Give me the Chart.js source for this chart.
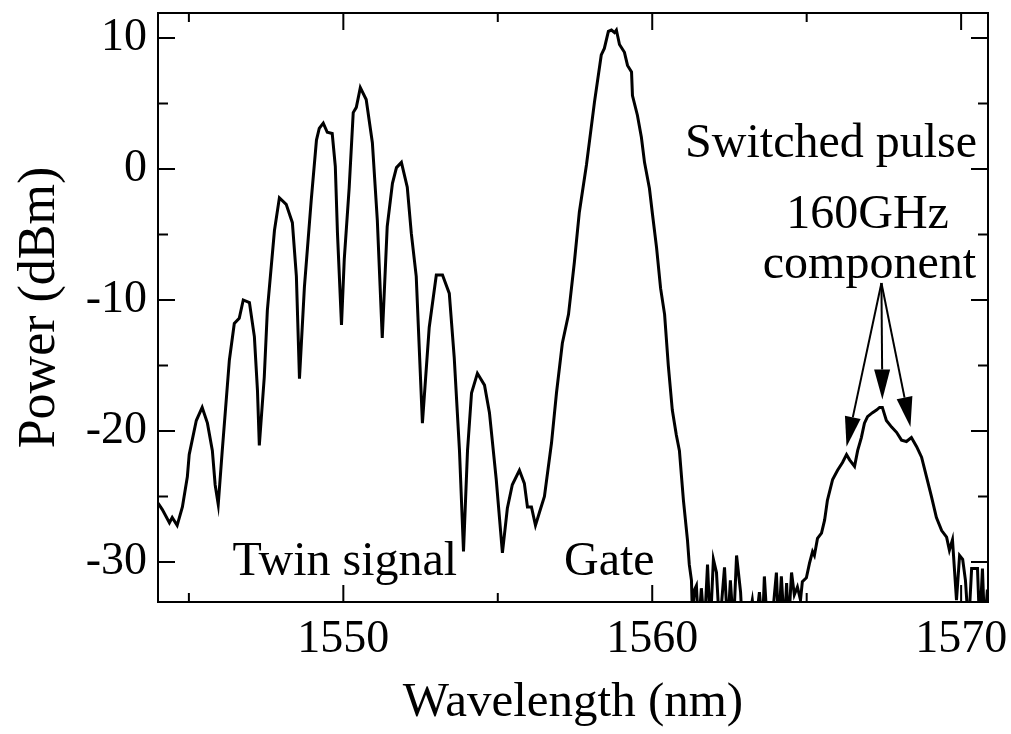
<!DOCTYPE html>
<html>
<head>
<meta charset="utf-8">
<script src="https://cdn.jsdelivr.net/npm/chart.js@4/dist/chart.umd.min.js"></script>
<style>
  html, body { margin: 0; padding: 0; background: #fff; }
  #wrap { width: 1011px; height: 734px; }
</style>
</head>
<body>
<div id="wrap"><canvas id="spectrum" width="1011" height="734"></canvas></div>
<script>
// spectrum: wavelength (nm) / power (dBm)
const wavelength = [
  1544.00, 1544.14, 1544.37, 1544.46, 1544.62, 1544.79, 1544.95, 1545.01, 1545.24, 1545.43,
  1545.60, 1545.76, 1545.85, 1545.95, 1546.08, 1546.21, 1546.31, 1546.47, 1546.63, 1546.76,
  1546.96, 1547.12, 1547.22, 1547.28, 1547.44, 1547.54, 1547.77, 1547.93, 1548.15, 1548.35,
  1548.48, 1548.58, 1548.74, 1548.96, 1549.13, 1549.22, 1549.35, 1549.48, 1549.64, 1549.74,
  1549.81, 1549.94, 1550.03, 1550.19, 1550.32, 1550.42, 1550.55, 1550.74, 1550.94, 1551.10,
  1551.26, 1551.42, 1551.59, 1551.72, 1551.88, 1552.07, 1552.20, 1552.36, 1552.56, 1552.78,
  1553.01, 1553.21, 1553.43, 1553.59, 1553.76, 1553.89, 1554.02, 1554.15, 1554.34, 1554.57,
  1554.73, 1554.95, 1555.15, 1555.31, 1555.47, 1555.70, 1555.86, 1555.96, 1556.09, 1556.22,
  1556.35, 1556.51, 1556.74, 1556.90, 1557.09, 1557.29, 1557.48, 1557.64, 1557.87, 1558.13,
  1558.35, 1558.45, 1558.58, 1558.68, 1558.78, 1558.84, 1558.94, 1559.10, 1559.20, 1559.33,
  1559.36, 1559.52, 1559.65, 1559.75, 1559.91, 1560.01, 1560.14, 1560.27, 1560.40, 1560.52,
  1560.65, 1560.78, 1560.88, 1561.01, 1561.14, 1561.20, 1561.27, 1561.30,
  1561.37, 1561.43, 1561.50, 1561.59, 1561.69, 1561.79, 1561.88, 1561.98, 1562.08, 1562.18,
  1562.34, 1562.44, 1562.53, 1562.63, 1562.73, 1562.86, 1562.92, 1563.08, 1563.24, 1563.34,
  1563.47, 1563.57, 1563.63, 1563.73, 1563.86, 1564.02, 1564.09, 1564.18, 1564.28, 1564.35,
  1564.41, 1564.51, 1564.60, 1564.70, 1564.80, 1564.86, 1564.99, 1565.09, 1565.19, 1565.25,
  1565.35, 1565.48, 1565.58, 1565.67, 1565.84, 1566.00, 1566.16, 1566.29, 1566.39, 1566.55,
  1566.65, 1566.77, 1566.87, 1566.97, 1567.13, 1567.26, 1567.36, 1567.45, 1567.58, 1567.75,
  1567.91, 1568.07, 1568.23, 1568.39, 1568.56, 1568.72, 1568.88, 1569.04, 1569.20, 1569.37,
  1569.53, 1569.62, 1569.72, 1569.85, 1569.95, 1570.05, 1570.14, 1570.24, 1570.34, 1570.53,
  1570.60, 1570.69, 1570.76, 1570.85
];
const power = [
  -25.5, -26.0, -27.0, -26.6, -27.2, -25.8, -23.5, -21.8, -19.2, -18.2,
  -19.4, -21.5, -24.1, -25.6, -21.5, -17.6, -14.6, -11.8, -11.4, -10.0,
  -10.2, -12.8, -16.9, -21.1, -15.9, -10.8, -4.7, -2.2, -2.7, -4.1,
  -8.2, -16.0, -9.0, -2.4, 2.2, 3.1, 3.5, 2.8, 2.7, 0.2,
  -4.9, -11.9, -6.9, -1.4, 4.3, 4.7, 6.2, 5.3, 2.0, -3.9,
  -12.9, -4.4, -1.1, 0.1, 0.5, -1.4, -4.9, -8.2, -19.4, -12.1,
  -8.1, -8.1, -9.5, -14.4, -21.5, -29.2, -21.5, -17.1, -15.6, -16.5,
  -18.6, -23.7, -29.3, -25.9, -24.1, -23.0, -24.0, -25.8, -25.8, -27.2,
  -26.2, -25.0, -20.9, -17.1, -13.3, -11.1, -7.1, -3.3, 0.3, 5.1,
  8.7, 9.2, 10.5, 10.6, 10.4, 10.6, 9.5, 8.9, 7.9, 7.4,
  5.6, 4.1, 2.4, 0.5, -1.5, -3.5, -6.0, -9.1, -11.1, -15.0,
  -18.4, -20.3, -21.5, -25.3, -28.3, -30.2, -31.4, -34,
  -32.1, -31.8, -35, -32.0, -35, -30.2, -35, -29.8, -30.8, -35,
  -30.4, -35, -31.4, -35, -29.5, -32.3, -35, -35, -32.9, -35,
  -32.3, -35, -31.1, -35, -35, -30.8, -35, -31.1, -35, -31.6,
  -35, -30.8, -32.5, -31.9, -32.9, -31.5, -31.2, -30.1, -29.2, -29.5,
  -28.2, -27.8, -26.8, -25.3, -23.7, -23.0, -22.4, -21.8, -22.2, -22.7,
  -21.5, -20.5, -19.4, -18.9, -18.6, -18.4, -18.2, -18.2, -19.2, -19.7,
  -20.1, -20.7, -20.8, -20.5, -21.2, -22.0, -23.5, -25.0, -26.6, -27.6,
  -28.1, -29.1, -28.3, -32.9, -29.5, -29.8, -31.4, -35, -30.5, -30.5,
  -35, -30.5, -35, -32.1
];

const xTickLabels = [1550, 1560, 1570];
const yTickLabels = [-30, -20, -10, 0, 10];

// arrows from "component" to the three 160 GHz lines
const arrowFrom = { x: 1567.42, y: -8.7 };
const arrowTips = [
  { x: 1566.29, y: -21.2 },
  { x: 1567.45, y: -17.6 },
  { x: 1568.36, y: -19.7 }
];

const serif = '"Liberation Serif", "Times New Roman", serif';

const frameAndTicks = {
  id: 'frameAndTicks',
  afterDatasetsDraw(chart) {
    const { ctx, chartArea: a, scales: { x, y } } = chart;
    ctx.save();
    ctx.strokeStyle = '#000';
    ctx.lineWidth = 2;
    ctx.strokeRect(a.left, a.top, a.right - a.left, a.bottom - a.top);
    ctx.beginPath();
    x.ticks.forEach(t => {
      const px = x.getPixelForValue(t.value);
      const len = t.value % 10 === 0 ? 17 : 9;
      ctx.moveTo(px, a.bottom); ctx.lineTo(px, a.bottom - len);
      ctx.moveTo(px, a.top); ctx.lineTo(px, a.top + len);
    });
    y.ticks.forEach(t => {
      const py = y.getPixelForValue(t.value);
      const len = t.value % 10 === 0 ? 17 : 10;
      ctx.moveTo(a.left, py); ctx.lineTo(a.left + len, py);
      ctx.moveTo(a.right, py); ctx.lineTo(a.right - len, py);
    });
    ctx.stroke();
    ctx.restore();
  }
};

const notes = {
  id: 'notes',
  afterDatasetsDraw(chart) {
    const { ctx, scales: { x, y } } = chart;
    ctx.save();
    ctx.fillStyle = '#000';
    ctx.textAlign = 'center';
    ctx.textBaseline = 'alphabetic';
    ctx.font = '48px ' + serif;
    const txt = (s, wx, wy) => ctx.fillText(s, x.getPixelForValue(wx), y.getPixelForValue(wy));
    txt('Switched pulse', 1565.79, 0.9);
    txt('160GHz', 1566.97, -4.5);
    txt('component', 1567.03, -8.3);
    txt('Twin signal', 1550.05, -31.0);
    txt('Gate', 1558.61, -31.0);

    // arrows
    const ox = x.getPixelForValue(arrowFrom.x), oy = y.getPixelForValue(arrowFrom.y);
    ctx.strokeStyle = '#000';
    ctx.lineWidth = 2;
    arrowTips.forEach(tip => {
      const tx = x.getPixelForValue(tip.x), ty = y.getPixelForValue(tip.y);
      const ang = Math.atan2(ty - oy, tx - ox);
      const headLen = 30, headW = 8;
      const bx = tx - headLen * Math.cos(ang), by = ty - headLen * Math.sin(ang);
      ctx.beginPath();
      ctx.moveTo(ox, oy);
      ctx.lineTo(bx, by);
      ctx.stroke();
      ctx.beginPath();
      ctx.moveTo(tx, ty);
      ctx.lineTo(bx + headW * Math.sin(ang), by - headW * Math.cos(ang));
      ctx.lineTo(bx - headW * Math.sin(ang), by + headW * Math.cos(ang));
      ctx.closePath();
      ctx.fill();
    });
    ctx.restore();
  }
};

const ctx = document.getElementById('spectrum').getContext('2d');
new Chart(ctx, {
  type: 'scatter',
  data: {
    datasets: [{
      label: 'Spectrum',
      data: wavelength.map((w, i) => ({ x: w, y: power[i] })),
      showLine: true,
      borderColor: '#000',
      borderWidth: 3,
      pointRadius: 0,
      tension: 0
    }]
  },
  options: {
    responsive: false,
    devicePixelRatio: 1,
    animation: false,
    layout: { padding: { top: 13, right: 23, left: 0, bottom: 0 } },
    plugins: {
      legend: { display: false },
      tooltip: { enabled: false }
    },
    scales: {
      x: {
        type: 'linear',
        min: 1544.0,
        max: 1570.87,
        afterFit: s => { s.height = 132; s.paddingLeft = 0; s.paddingRight = 0; },
        grid: { display: false, drawTicks: false },
        border: { display: false },
        ticks: {
          stepSize: 5,
          includeBounds: false,
          autoSkip: false,
          maxRotation: 0,
          padding: 10,
          color: '#000',
          font: { family: serif, size: 46 },
          callback: v => xTickLabels.includes(v) ? String(v) : ''
        },
        title: {
          display: true,
          text: 'Wavelength (nm)',
          color: '#000',
          font: { family: serif, size: 49, lineHeight: 1 },
          padding: { top: 0, bottom: 6 }
        }
      },
      y: {
        min: -33.05,
        max: 11.9,
        afterFit: s => { s.width = 158; s.paddingTop = 0; s.paddingBottom = 0; },
        grid: { display: false, drawTicks: false },
        border: { display: false },
        ticks: {
          stepSize: 5,
          includeBounds: false,
          autoSkip: false,
          padding: 11,
          color: '#000',
          font: { family: serif, size: 46 },
          callback: v => yTickLabels.includes(v) ? String(v) : ''
        },
        title: {
          display: true,
          text: 'Power (dBm)',
          color: '#000',
          font: { family: serif, size: 52, lineHeight: 1 },
          padding: { top: 14, bottom: 0 }
        }
      }
    }
  },
  plugins: [frameAndTicks, notes]
});
</script>
</body>
</html>
